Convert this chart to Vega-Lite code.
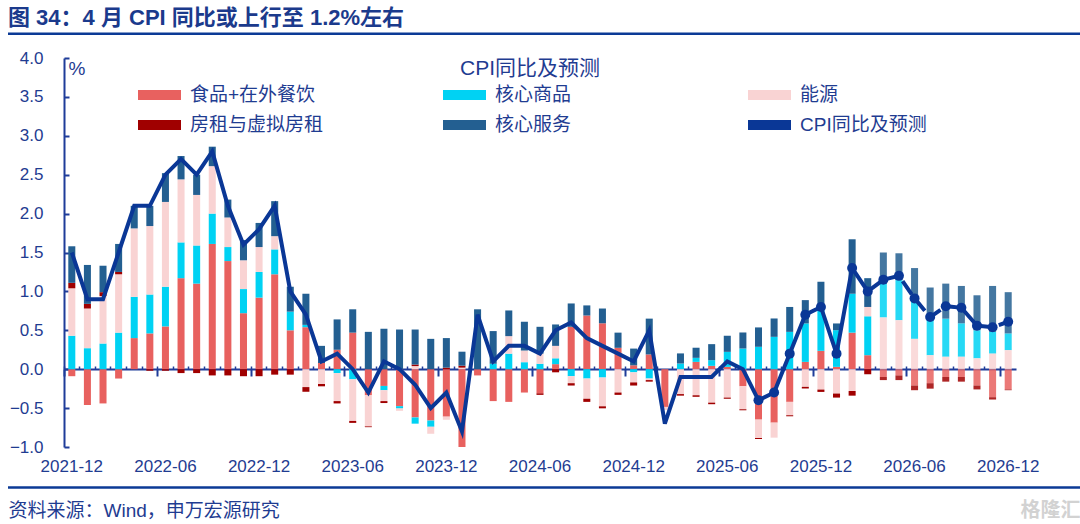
{
  "$schema": "https://vega.github.io/schema/vega-lite/v6.json",
  "description": "CPI同比拆分及预测",
  "width": 1072,
  "height": 389,
  "autosize": "none",
  "padding": {"left": 8, "top": 58, "right": 0, "bottom": 77},
  "config": {
    "font": "Liberation Sans, Noto Sans CJK SC",
    "view": {"stroke": null}
  },
  "title": {
    "text": "图 34：4 月 CPI 同比或上行至 1.2%左右",
    "anchor": "start",
    "frame": "group",
    "orient": "top",
    "offset": 2,
    "fontSize": 22,
    "fontWeight": "bold",
    "color": "#1B3A8C"
  },
  "data": {
    "values": [
      {"m": "2021-12", "t": "实际", "食品+在外餐饮": -0.09, "核心商品": 0.43, "能源": 0.61, "房租与虚拟房租": 0.07, "核心服务": 0.47, "CPI同比及预测": 1.5},
      {"m": "2022-01", "t": "实际", "食品+在外餐饮": -0.46, "核心商品": 0.27, "能源": 0.51, "房租与虚拟房租": 0.06, "核心服务": 0.5, "CPI同比及预测": 0.9},
      {"m": "2022-02", "t": "实际", "食品+在外餐饮": -0.44, "核心商品": 0.33, "能源": 0.61, "房租与虚拟房租": 0.05, "核心服务": 0.34, "CPI同比及预测": 0.9},
      {"m": "2022-03", "t": "实际", "食品+在外餐饮": -0.12, "核心商品": 0.47, "能源": 0.75, "房租与虚拟房租": 0.03, "核心服务": 0.36, "CPI同比及预测": 1.5},
      {"m": "2022-04", "t": "实际", "食品+在外餐饮": 0.4, "核心商品": 0.53, "能源": 0.88, "房租与虚拟房租": 0, "核心服务": 0.29, "CPI同比及预测": 2.1},
      {"m": "2022-05", "t": "实际", "食品+在外餐饮": 0.46, "核心商品": 0.5, "能源": 0.88, "房租与虚拟房租": -0.02, "核心服务": 0.26, "CPI同比及预测": 2.1},
      {"m": "2022-06", "t": "实际", "食品+在外餐饮": 0.55, "核心商品": 0.51, "能源": 1.09, "房租与虚拟房租": -0.02, "核心服务": 0.37, "CPI同比及预测": 2.5},
      {"m": "2022-07", "t": "实际", "食品+在外餐饮": 1.17, "核心商品": 0.46, "能源": 0.81, "房租与虚拟房租": -0.05, "核心服务": 0.3, "CPI同比及预测": 2.7},
      {"m": "2022-08", "t": "实际", "食品+在外餐饮": 1.1, "核心商品": 0.49, "能源": 0.65, "房租与虚拟房租": -0.05, "核心服务": 0.26, "CPI同比及预测": 2.5},
      {"m": "2022-09", "t": "实际", "食品+在外餐饮": 1.61, "核心商品": 0.39, "能源": 0.61, "房租与虚拟房租": -0.08, "核心服务": 0.25, "CPI同比及预测": 2.8},
      {"m": "2022-10", "t": "实际", "食品+在外餐饮": 1.39, "核心商品": 0.18, "能源": 0.38, "房租与虚拟房租": -0.08, "核心服务": 0.23, "CPI同比及预测": 2.1},
      {"m": "2022-11", "t": "实际", "食品+在外餐饮": 0.72, "核心商品": 0.31, "能源": 0.37, "房租与虚拟房租": -0.09, "核心服务": 0.26, "CPI同比及预测": 1.6},
      {"m": "2022-12", "t": "实际", "食品+在外餐饮": 0.92, "核心商品": 0.33, "能源": 0.32, "房租与虚拟房租": -0.09, "核心服务": 0.31, "CPI同比及预测": 1.8},
      {"m": "2023-01", "t": "实际", "食品+在外餐饮": 1.22, "核心商品": 0.32, "能源": 0.17, "房租与虚拟房租": -0.07, "核心服务": 0.45, "CPI同比及预测": 2.1},
      {"m": "2023-02", "t": "实际", "食品+在外餐饮": 0.5, "核心商品": 0.24, "能源": 0, "房租与虚拟房租": -0.07, "核心服务": 0.32, "CPI同比及预测": 1.0},
      {"m": "2023-03", "t": "实际", "食品+在外餐饮": 0.54, "核心商品": 0.03, "能源": -0.23, "房租与虚拟房租": -0.06, "核心服务": 0.4, "CPI同比及预测": 0.7},
      {"m": "2023-04", "t": "实际", "食品+在外餐饮": 0.08, "核心商品": 0, "能源": -0.19, "房租与虚拟房租": -0.03, "核心服务": 0.22, "CPI同比及预测": 0.1},
      {"m": "2023-05", "t": "实际", "食品+在外餐饮": 0.25, "核心商品": -0.05, "能源": -0.36, "房租与虚拟房租": -0.03, "核心服务": 0.39, "CPI同比及预测": 0.2},
      {"m": "2023-06", "t": "实际", "食品+在外餐饮": 0.47, "核心商品": -0.13, "能源": -0.535, "房租与虚拟房租": -0.025, "核心服务": 0.3, "CPI同比及预测": 0.0},
      {"m": "2023-07", "t": "实际", "食品+在外餐饮": -0.335, "核心商品": 0, "能源": -0.4, "房租与虚拟房租": -0.01, "核心服务": 0.48, "CPI同比及预测": -0.3},
      {"m": "2023-08", "t": "实际", "食品+在外餐饮": -0.215, "核心商品": -0.055, "能源": -0.14, "房租与虚拟房租": -0.025, "核心服务": 0.52, "CPI同比及预测": 0.1},
      {"m": "2023-09", "t": "实际", "食品+在外餐饮": -0.475, "核心商品": -0.03, "能源": -0.03, "房租与虚拟房租": 0, "核心服务": 0.51, "CPI同比及预测": 0.0},
      {"m": "2023-10", "t": "实际", "食品+在外餐饮": -0.62, "核心商品": -0.08, "能源": 0.04, "房租与虚拟房租": 0.02, "核心服务": 0.45, "CPI同比及预测": -0.2},
      {"m": "2023-11", "t": "实际", "食品+在外餐饮": -0.66, "核心商品": -0.08, "能源": -0.09, "房租与虚拟房租": 0, "核心服务": 0.39, "CPI同比及预测": -0.5},
      {"m": "2023-12", "t": "实际", "食品+在外餐饮": -0.61, "核心商品": 0, "能源": -0.04, "房租与虚拟房租": 0.02, "核心服务": 0.38, "CPI同比及预测": -0.3},
      {"m": "2024-01", "t": "实际", "食品+在外餐饮": -1.0, "核心商品": 0, "能源": 0.02, "房租与虚拟房租": 0.025, "核心服务": 0.18, "CPI同比及预测": -0.8},
      {"m": "2024-02", "t": "实际", "食品+在外餐饮": -0.08, "核心商品": 0, "能源": 0, "房租与虚拟房租": 0, "核心服务": 0.77, "CPI同比及预测": 0.7},
      {"m": "2024-03", "t": "实际", "食品+在外餐饮": -0.41, "核心商品": 0.07, "能源": 0, "房租与虚拟房租": 0, "核心服务": 0.42, "CPI同比及预测": 0.1},
      {"m": "2024-04", "t": "实际", "食品+在外餐饮": -0.42, "核心商品": 0.2, "能源": 0.225, "房租与虚拟房租": 0, "核心服务": 0.33, "CPI同比及预测": 0.3},
      {"m": "2024-05", "t": "实际", "食品+在外餐饮": -0.3, "核心商品": 0.09, "能源": 0.15, "房租与虚拟房租": 0, "核心服务": 0.37, "CPI同比及预测": 0.3},
      {"m": "2024-06", "t": "实际", "食品+在外餐饮": -0.31, "核心商品": 0.07, "能源": 0.13, "房租与虚拟房租": -0.02, "核心服务": 0.345, "CPI同比及预测": 0.2},
      {"m": "2024-07", "t": "实际", "食品+在外餐饮": 0.065, "核心商品": 0.075, "能源": 0.16, "房租与虚拟房租": -0.04, "核心服务": 0.275, "CPI同比及预测": 0.5},
      {"m": "2024-08", "t": "实际", "食品+在外餐饮": 0.545, "核心商品": -0.09, "能源": -0.09, "房租与虚拟房租": -0.03, "核心服务": 0.3, "CPI同比及预测": 0.6},
      {"m": "2024-09", "t": "实际", "食品+在外餐饮": 0.69, "核心商品": -0.12, "能源": -0.26, "房租与虚拟房租": -0.04, "核心服务": 0.13, "CPI同比及预测": 0.4},
      {"m": "2024-10", "t": "实际", "食品+在外餐饮": 0.59, "核心商品": -0.107, "能源": -0.37, "房租与虚拟房租": -0.026, "核心服务": 0.19, "CPI同比及预测": 0.3},
      {"m": "2024-11", "t": "实际", "食品+在外餐饮": 0.275, "核心商品": 0, "能源": -0.3, "房租与虚拟房租": -0.03, "核心服务": 0.195, "CPI同比及预测": 0.2},
      {"m": "2024-12", "t": "实际", "食品+在外餐饮": 0.05, "核心商品": -0.04, "能源": -0.13, "房租与虚拟房租": -0.04, "核心服务": 0.215, "CPI同比及预测": 0.1},
      {"m": "2025-01", "t": "实际", "食品+在外餐饮": 0.19, "核心商品": -0.12, "能源": -0.02, "房租与虚拟房租": -0.02, "核心服务": 0.46, "CPI同比及预测": 0.5},
      {"m": "2025-02", "t": "实际", "食品+在外餐饮": -0.485, "核心商品": 0, "能源": -0.04, "房租与虚拟房租": 0, "核心服务": 0, "CPI同比及预测": -0.7},
      {"m": "2025-03", "t": "实际", "食品+在外餐饮": 0, "核心商品": 0.073, "能源": -0.32, "房租与虚拟房租": -0.02, "核心服务": 0.13, "CPI同比及预测": -0.1},
      {"m": "2025-04", "t": "实际", "食品+在外餐饮": 0.094, "核心商品": 0.052, "能源": -0.335, "房租与虚拟房租": -0.02, "核心服务": 0.13, "CPI同比及预测": -0.1},
      {"m": "2025-05", "t": "实际", "食品+在外餐饮": 0.043, "核心商品": 0.073, "能源": -0.43, "房租与虚拟房租": -0.02, "核心服务": 0.206, "CPI同比及预测": -0.1},
      {"m": "2025-06", "t": "实际", "食品+在外餐饮": 0.03, "核心商品": 0.193, "能源": -0.365, "房租与虚拟房租": -0.015, "核心服务": 0.207, "CPI同比及预测": 0.1},
      {"m": "2025-07", "t": "实际", "食品+在外餐饮": -0.219, "核心商品": 0.266, "能源": -0.296, "房租与虚拟房租": -0.013, "核心服务": 0.206, "CPI同比及预测": 0.0},
      {"m": "2025-08", "t": "实际", "食品+在外餐饮": -0.648, "核心商品": 0.288, "能源": -0.236, "房租与虚拟房租": -0.013, "核心服务": 0.249, "CPI同比及预测": -0.4},
      {"m": "2025-09", "t": "实际", "食品+在外餐饮": -0.687, "核心商品": 0.416, "能源": -0.193, "房租与虚拟房租": 0, "核心服务": 0.236, "CPI同比及预测": -0.3},
      {"m": "2025-10", "t": "实际", "食品+在外餐饮": -0.42, "核心商品": 0.48, "能源": -0.172, "房租与虚拟房租": -0.013, "核心服务": 0.32, "CPI同比及预测": 0.2},
      {"m": "2025-11", "t": "实际", "食品+在外餐饮": 0.094, "核心商品": 0.494, "能源": -0.227, "房租与虚拟房租": -0.021, "核心服务": 0.3, "CPI同比及预测": 0.7},
      {"m": "2025-12", "t": "实际", "食品+在外餐饮": 0.236, "核心商品": 0.588, "能源": -0.262, "房租与虚拟房租": -0.03, "核心服务": 0.3, "CPI同比及预测": 0.8},
      {"m": "2026-01", "t": "实际", "食品+在外餐饮": 0.03, "核心商品": 0.472, "能源": -0.313, "房租与虚拟房租": -0.052, "核心服务": 0.086, "CPI同比及预测": 0.2},
      {"m": "2026-02", "t": "实际", "食品+在外餐饮": 0.47, "核心商品": 0.5, "能源": -0.28, "房租与虚拟房租": -0.06, "核心服务": 0.7, "CPI同比及预测": 1.3},
      {"m": "2026-03", "t": "实际", "食品+在外餐饮": 0.18, "核心商品": 0.5, "能源": 0.12, "房租与虚拟房租": -0.065, "核心服务": 0.37, "CPI同比及预测": 1.0},
      {"m": "2026-04", "t": "预测", "食品+在外餐饮": -0.1, "核心商品": 0.435, "能源": 0.665, "房租与虚拟房租": -0.04, "核心服务": 0.4, "CPI同比及预测": 1.15},
      {"m": "2026-05", "t": "预测", "食品+在外餐饮": -0.08, "核心商品": 0.515, "能源": 0.63, "房租与虚拟房租": -0.06, "核心服务": 0.345, "CPI同比及预测": 1.2},
      {"m": "2026-06", "t": "预测", "食品+在外餐饮": -0.21, "核心商品": 0.48, "能源": 0.39, "房租与虚拟房租": -0.06, "核心服务": 0.43, "CPI同比及预测": 0.91},
      {"m": "2026-07", "t": "预测", "食品+在外餐饮": -0.18, "核心商品": 0.47, "能源": 0.18, "房租与虚拟房租": -0.07, "核心服务": 0.4, "CPI同比及预测": 0.67},
      {"m": "2026-08", "t": "预测", "食品+在外餐饮": -0.1, "核心商品": 0.49, "能源": 0.16, "房租与虚拟房租": -0.06, "核心服务": 0.45, "CPI同比及预测": 0.81},
      {"m": "2026-09", "t": "预测", "食品+在外餐饮": -0.1, "核心商品": 0.43, "能源": 0.16, "房租与虚拟房租": -0.06, "核心服务": 0.48, "CPI同比及预测": 0.79},
      {"m": "2026-10", "t": "预测", "食品+在外餐饮": -0.21, "核心商品": 0.36, "能源": 0.14, "房租与虚拟房租": -0.05, "核心服务": 0.45, "CPI同比及预测": 0.56},
      {"m": "2026-11", "t": "预测", "食品+在外餐饮": -0.36, "核心商品": 0.28, "能源": 0.2, "房租与虚拟房租": -0.03, "核心服务": 0.59, "CPI同比及预测": 0.54},
      {"m": "2026-12", "t": "预测", "食品+在外餐饮": -0.26, "核心商品": 0.215, "能源": 0.245, "房租与虚拟房租": -0.01, "核心服务": 0.53, "CPI同比及预测": 0.61}
    ]
  },
  "layer": [
    {
      "transform": [
        {"fold": ["食品+在外餐饮", "核心商品", "能源", "房租与虚拟房租", "核心服务"], "as": ["key", "value"]},
        {"calculate": "datum.t === '预测' ? indexof(['食品+在外餐饮', '能源', '核心商品', '房租与虚拟房租', '核心服务'], datum.key) : indexof(['食品+在外餐饮', '核心商品', '能源', '房租与虚拟房租', '核心服务'], datum.key)", "as": "ord"}
      ],
      "mark": {"type": "bar", "width": {"band": 0.45}},
      "encoding": {
        "x": {
          "field": "m",
          "type": "ordinal",
          "scale": {"range": [56, 1008], "paddingInner": 0, "paddingOuter": 0},
          "axis": {
            "orient": "bottom",
            "values": ["2021-12", "2022-06", "2022-12", "2023-06", "2023-12", "2024-06", "2024-12", "2025-06", "2025-12", "2026-06", "2026-12"],
            "labelAngle": 0,
            "labelFontSize": 17,
            "labelColor": "#1F3C91",
            "labelPadding": 11,
            "domain": false,
            "ticks": false,
            "title": "资料来源：Wind，申万宏源研究",
            "titleX": 0,
            "titleY": 63,
            "titleAlign": "left",
            "titleAnchor": "start",
            "titleBaseline": "middle",
            "titleFontSize": 19,
            "titleFontWeight": "normal",
            "titleColor": "#1F3C91"
          }
        },
        "y": {
          "field": "value",
          "type": "quantitative",
          "stack": "zero",
          "scale": {"domain": [-1, 4], "nice": false, "zero": false},
          "axis": {
            "orient": "left",
            "offset": -56,
            "values": [-1, -0.5, 0, 0.5, 1, 1.5, 2, 2.5, 3, 3.5, 4],
            "format": ".1f",
            "labelOverlap": false,
            "grid": false,
            "domainColor": "#1F3C99",
            "domainWidth": 2,
            "tickColor": "#1F3C99",
            "tickWidth": 2,
            "tickSize": -5,
            "labelPadding": 26,
            "labelFontSize": 17,
            "labelColor": "#1F3C91",
            "title": "%",
            "titleAngle": 0,
            "titleX": 4,
            "titleY": 10,
            "titleAlign": "left",
            "titleBaseline": "middle",
            "titleFontSize": 19,
            "titleFontWeight": "normal",
            "titleColor": "#1F3C91"
          }
        },
        "color": {
          "field": "key",
          "type": "nominal",
          "scale": {
            "domain": ["食品+在外餐饮", "核心商品", "能源", "房租与虚拟房租", "核心服务", "CPI同比及预测"],
            "range": ["#E8615F", "#00D2F3", "#F9D3D3", "#A00000", "#235F91", "#0A3796"]
          },
          "legend": {
            "orient": "none",
            "legendX": 125,
            "legendY": 0,
            "direction": "horizontal",
            "columns": 3,
            "gridAlign": "all",
            "columnPadding": 114,
            "rowPadding": 10,
            "clipHeight": 20,
            "title": "CPI同比及预测",
            "titleAnchor": "middle",
            "titleFontSize": 21,
            "titleFontWeight": "normal",
            "titleColor": "#1F3C91",
            "titlePadding": 6,
            "labelFontSize": 19,
            "labelColor": "#1F3C91",
            "labelOffset": 4,
            "labelLimit": 300,
            "symbolType": "stroke",
            "symbolSize": 1849,
            "symbolStrokeWidth": 10,
            "encode": {
              "symbols": {
                "update": {
                  "shape": {"value": "stroke"},
                  "stroke": {"scale": "color", "field": "value"},
                  "fill": {"value": "transparent"},
                  "strokeWidth": {"signal": "datum.value === 'CPI同比及预测' ? 3.5 : 10"},
                  "opacity": {"value": 1}
                }
              }
            }
          }
        },
        "order": {"field": "ord", "type": "quantitative"},
        "opacity": {"condition": {"test": "datum.t === '预测'", "value": 0.85}, "value": 1}
      }
    },
    {
      "transform": [{"filter": "datum.t === '实际'"}],
      "mark": {"type": "line", "strokeWidth": 4},
      "encoding": {
        "x": {
          "field": "m",
          "type": "ordinal",
          "axis": {
            "orient": "top",
            "offset": -311,
            "bandPosition": 0,
            "labels": false,
            "domain": true,
            "domainColor": "#1F3C99",
            "domainWidth": 2,
            "ticks": true,
            "tickSize": 3,
            "tickWidth": 1.5,
            "tickColor": "#1F3C99",
            "title": null
          }
        },
        "y": {"field": "CPI同比及预测", "type": "quantitative", "axis": null},
        "color": {"datum": "CPI同比及预测"}
      }
    },
    {
      "transform": [{"filter": "datum.m >= '2026-03'"}],
      "mark": {"type": "line", "strokeWidth": 4, "strokeDash": [16, 5]},
      "encoding": {
        "x": {"field": "m", "type": "ordinal", "axis": null},
        "y": {"field": "CPI同比及预测", "type": "quantitative", "axis": null},
        "color": {"datum": "CPI同比及预测"}
      }
    },
    {
      "transform": [{"filter": "datum.m >= '2025-08'"}],
      "mark": {"type": "circle", "size": 100, "opacity": 1},
      "encoding": {
        "x": {
          "field": "m",
          "type": "ordinal",
          "axis": {
            "orient": "top",
            "offset": -311,
            "bandPosition": 0,
            "values": ["2021-12", "2022-06", "2022-12", "2023-06", "2023-12", "2024-06", "2024-12", "2025-06", "2025-12", "2026-06", "2026-12"],
            "labels": false,
            "domain": false,
            "ticks": true,
            "tickSize": -7,
            "tickWidth": 2,
            "tickColor": "#1F3C99",
            "title": "格隆汇",
            "titleX": 1072,
            "titleY": 141,
            "titleAlign": "right",
            "titleBaseline": "middle",
            "titleFontSize": 20,
            "titleFontWeight": "bold",
            "titleColor": "#D2D2D2"
          }
        },
        "y": {"field": "CPI同比及预测", "type": "quantitative", "axis": null},
        "color": {"datum": "CPI同比及预测"}
      }
    },
    {
      "data": {"values": [{}]},
      "mark": {"type": "rule", "color": "#0B3A96", "strokeWidth": 2.5},
      "encoding": {"y": {"datum": 4.312, "axis": null}}
    },
    {
      "data": {"values": [{}]},
      "mark": {"type": "rule", "color": "#0B3A96", "strokeWidth": 2.5},
      "encoding": {"y": {"datum": -1.52, "axis": null}}
    }
  ],
  "resolve": {"axis": {"x": "independent", "y": "independent"}}
}
